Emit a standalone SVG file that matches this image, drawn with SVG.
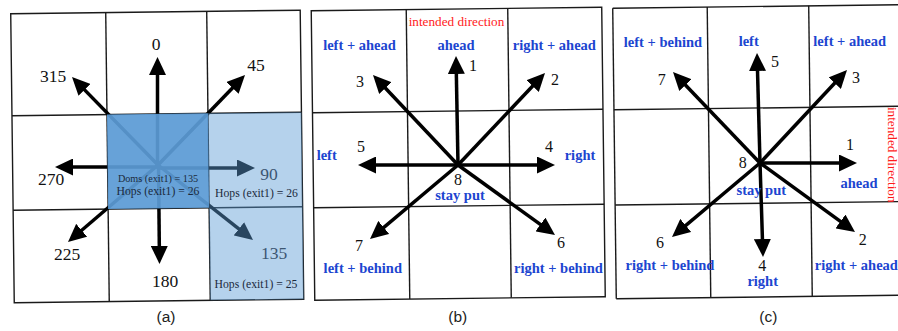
<svg xmlns="http://www.w3.org/2000/svg" width="898" height="331" viewBox="0 0 898 331">
<style>
.grid{fill:none;stroke:#1a1a1a;stroke-width:1.4}
.arr{stroke:#000;stroke-width:3.5;fill:none;marker-end:url(#ah)}
.num{font-family:"Liberation Serif","Times New Roman",serif;fill:#111;text-anchor:middle}
.na{font-size:17.5px}
.nb{font-size:16px}
.lbl{font-family:"Liberation Serif","Times New Roman",serif;font-weight:bold;font-size:14.5px;fill:#1c45d0;text-anchor:middle}
.red{font-family:"Liberation Serif","Times New Roman",serif;font-size:13.2px;fill:#ff1a1a;text-anchor:middle}
.hop{font-family:"Liberation Serif","Times New Roman",serif;fill:#1b2a3c;text-anchor:middle}
.cap{font-family:"Liberation Sans",Arial,sans-serif;font-size:15.5px;fill:#222;text-anchor:middle}
</style>
<defs>
<marker id="ah" markerWidth="18" markerHeight="17" refX="8" refY="8.5" orient="auto" markerUnits="userSpaceOnUse">
<path d="M0,0 L18,8.5 L0,17 z" fill="#000"/>
</marker>
</defs>

<g id="panel-a">
<g id="grid-a" class="grid" transform="rotate(-0.7 157 158)">
<rect x="12.5" y="12" width="289.5" height="289"/>
<line x1="107.5" y1="12" x2="107.5" y2="301"/>
<line x1="208.5" y1="12" x2="208.5" y2="301"/>
<line x1="12.5" y1="114" x2="302" y2="114"/>
<line x1="12.5" y1="208.5" x2="302" y2="208.5"/>
</g>
<g id="connectors-a">
<line class="arr" x1="157.5" y1="165" x2="157.5" y2="67"/>
<line class="arr" x1="158" y1="165" x2="238.05" y2="82.19"/>
<line class="arr" x1="158" y1="165" x2="78.99" y2="84.15"/>
<line class="arr" x1="158" y1="167" x2="65" y2="167"/>
<line class="arr" x1="158" y1="168" x2="245" y2="168"/>
<line class="arr" x1="158" y1="165" x2="75.6" y2="235.5"/>
<line class="arr" x1="158.5" y1="165" x2="159.4" y2="254"/>
<line class="arr" x1="158" y1="165" x2="245.15" y2="233.8"/>
</g>
<g id="overlay-a" transform="rotate(-0.7 157 158)">
<rect id="cell-center-a" x="107.5" y="114" width="101" height="94.5" fill="#5b9bd5" fill-opacity="0.93"/>
<rect id="cells-right-a" x="208.5" y="114" width="93.5" height="187" fill="#5b9bd5" fill-opacity="0.45"/>
</g>
<g id="labels-a">
<text class="num na" x="156" y="50">0</text>
<text class="num na" x="256" y="71">45</text>
<text class="num na" x="53" y="82">315</text>
<text class="num na" x="51" y="185">270</text>
<text class="num na" x="269" y="180" style="fill:#3c5672">90</text>
<text class="num na" x="67" y="260">225</text>
<text class="num na" x="165" y="287">180</text>
<text class="num na" x="274" y="259" style="fill:#3c5672">135</text>
<text class="hop" x="158" y="182" font-size="10.2">Doms (exit1) = 135</text>
<text class="hop" x="158" y="195" font-size="11.7">Hops (exit1) = 26</text>
<text class="hop" x="256.5" y="197" font-size="11.7">Hops (exit1) = 26</text>
<text class="hop" x="256" y="288" font-size="11.7">Hops (exit1) = 25</text>
<text class="cap" x="166" y="322">(a)</text>
</g>
</g>

<g id="panel-b">
<g id="grid-b" class="grid" transform="rotate(-0.7 458 154)">
<rect x="313" y="9" width="290.5" height="289.5"/>
<line x1="408" y1="9" x2="408" y2="298.5"/>
<line x1="509.5" y1="9" x2="509.5" y2="298.5"/>
<line x1="313" y1="111" x2="603.5" y2="111"/>
<line x1="313" y1="206" x2="603.5" y2="206"/>
</g>
<g id="connectors-b">
<line class="arr" x1="458" y1="165" x2="456.2" y2="66"/>
<line class="arr" x1="458" y1="165" x2="538.13" y2="80.27"/>
<line class="arr" x1="458" y1="165" x2="379.87" y2="82.27"/>
<line class="arr" x1="458" y1="165" x2="545" y2="165"/>
<line class="arr" x1="458" y1="165" x2="368" y2="165"/>
<line class="arr" x1="458" y1="165" x2="546.89" y2="229.15"/>
<line class="arr" x1="458" y1="165" x2="377.65" y2="232.57"/>
</g>
<g id="labels-b">
<text class="red" x="456.5" y="26">intended direction</text>
<text class="lbl" x="359.5" y="50">left + ahead</text>
<text class="lbl" x="456" y="50">ahead</text>
<text class="lbl" x="554.3" y="50">right + ahead</text>
<text class="num nb" x="360" y="86.5">3</text>
<text class="num nb" x="473" y="71">1</text>
<text class="num nb" x="555" y="85">2</text>
<text class="num nb" x="361" y="152">5</text>
<text class="num nb" x="549" y="152">4</text>
<text class="lbl" x="326.7" y="160">left</text>
<text class="lbl" x="580" y="160">right</text>
<text class="num nb" x="458" y="185">8</text>
<text class="lbl" x="460" y="200">stay put</text>
<text class="num nb" x="359" y="251">7</text>
<text class="num nb" x="561" y="248">6</text>
<text class="lbl" x="362.8" y="272.7">left + behind</text>
<text class="lbl" x="558.4" y="272.7">right + behind</text>
<text class="cap" x="457.7" y="322">(b)</text>
</g>
</g>

<g id="panel-c">
<g id="grid-c" class="grid" transform="rotate(-0.7 757 153)">
<line x1="614.5" y1="6.5" x2="614.5" y2="297"/>
<line x1="709" y1="6.5" x2="709" y2="297"/>
<line x1="810.5" y1="6.5" x2="810.5" y2="297"/>
<line x1="614.5" y1="6.5" x2="905" y2="6.5"/>
<line x1="614.5" y1="108" x2="905" y2="108"/>
<line x1="614.5" y1="203.3" x2="905" y2="203.3"/>
<line x1="614.5" y1="297" x2="905" y2="297"/>
</g>
<g id="connectors-c">
<line class="arr" x1="760" y1="163" x2="757.3" y2="63"/>
<line class="arr" x1="760" y1="163" x2="840.17" y2="77.3"/>
<line class="arr" x1="760" y1="163" x2="679.91" y2="79.23"/>
<line class="arr" x1="760" y1="163" x2="847" y2="163"/>
<line class="arr" x1="760" y1="163" x2="762.7" y2="247"/>
<line class="arr" x1="760" y1="163" x2="679.65" y2="230.57"/>
<line class="arr" x1="760" y1="163" x2="846.91" y2="226.12"/>
</g>
<g id="labels-c">
<text class="lbl" x="663" y="46.5">left + behind</text>
<text class="lbl" x="748.7" y="46">left</text>
<text class="lbl" x="849.7" y="46">left + ahead</text>
<text class="num nb" x="661.7" y="85">7</text>
<text class="num nb" x="775" y="67">5</text>
<text class="num nb" x="856" y="82.7">3</text>
<text class="num nb" x="850" y="150">1</text>
<text class="lbl" x="859" y="187.7">ahead</text>
<text class="red" transform="translate(887.5 154.7) rotate(90)">intended direction</text>
<text class="num nb" x="742.7" y="168">8</text>
<text class="lbl" x="761.3" y="195">stay put</text>
<text class="num nb" x="660" y="248">6</text>
<text class="num nb" x="862.7" y="245">2</text>
<text class="lbl" x="670" y="270">right + behind</text>
<text class="num nb" x="762.3" y="271">4</text>
<text class="lbl" x="856.3" y="270">right + ahead</text>
<text class="lbl" x="762.7" y="285.5">right</text>
<text class="cap" x="768.3" y="322">(c)</text>
</g>
</g>
</svg>
